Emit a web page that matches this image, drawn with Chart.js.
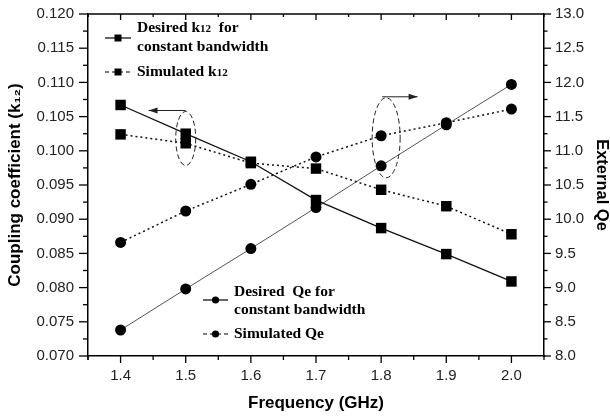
<!DOCTYPE html>
<html><head><meta charset="utf-8">
<script src="https://cdn.jsdelivr.net/npm/chart.js@4/dist/chart.umd.min.js"></script>
<style>html,body{margin:0;padding:0;background:#fff}#wrap{width:610px;height:418px;position:relative}</style>
</head><body><div id="wrap"><canvas id="c" width="610" height="418"></canvas></div>
<script>
const frequencies = [1.4, 1.5, 1.6, 1.7, 1.8, 1.9, 2.0];
const desiredK = [0.1067, 0.1025, 0.0984, 0.0928, 0.0887, 0.0849, 0.0809];
const simulatedK = [0.1024, 0.1011, 0.0982, 0.0974, 0.0943, 0.0919, 0.0878];
const desiredQe = [8.38, 8.98, 9.57, 10.17, 10.78, 11.38, 11.97];
const simulatedQe = [9.66, 10.12, 10.51, 10.91, 11.22, 11.41, 11.61];
const xTicks = [1.4, 1.5, 1.6, 1.7, 1.8, 1.9, 2.0];
const kTicks = [0.070, 0.075, 0.080, 0.085, 0.090, 0.095, 0.100, 0.105, 0.110, 0.115, 0.120];
const qeTicks = [8.0, 8.5, 9.0, 9.5, 10.0, 10.5, 11.0, 11.5, 12.0, 12.5, 13.0];

const SANS = "'Liberation Sans', Arial, sans-serif";
const SERIF = "'Liberation Serif', 'Times New Roman', serif";

const pts = (ys) => frequencies.map((f, i) => ({x: f, y: ys[i]}));

function drawRich(ctx, x, y, parts) {
  let cx = x;
  for (const [t, size, dy] of parts) {
    ctx.font = 'bold ' + size + 'px ' + SERIF;
    ctx.fillText(t, cx, y + (dy || 0));
    cx += ctx.measureText(t).width;
  }
}
function sample(ctx, x0, x1, y, dashed, marker) {
  ctx.save();
  ctx.strokeStyle = '#000'; ctx.fillStyle = '#000'; ctx.lineWidth = 1.2;
  if (dashed) ctx.setLineDash([4, 3]);
  ctx.beginPath(); ctx.moveTo(x0, y); ctx.lineTo(x1, y); ctx.stroke();
  ctx.setLineDash([]);
  const m = (x0 + x1) / 2;
  if (marker === 'rect') ctx.fillRect(m - 3.5, y - 3.5, 7, 7);
  else { ctx.beginPath(); ctx.arc(m, y, 3.6, 0, Math.PI * 2); ctx.fill(); }
  ctx.restore();
}
function arrow(ctx, xs, ys, xe, ye) {
  ctx.beginPath(); ctx.moveTo(xs, ys); ctx.lineTo(xe, ye); ctx.stroke();
  const dir = Math.sign(xe - xs);
  ctx.beginPath(); ctx.moveTo(xe, ye); ctx.lineTo(xe - dir * 9, ye - 3); ctx.lineTo(xe - dir * 9, ye + 3); ctx.closePath(); ctx.fill();
}
function fixPad(s) { s.paddingTop = 0; s.paddingBottom = 0; s.paddingLeft = 0; s.paddingRight = 0; }

const decor = {
  id: 'decor',
  afterDraw(chart) {
    const {ctx, chartArea: a, scales} = chart;
    const sx = scales.x, sy = scales.y, sq = scales.y1;
    ctx.save();
    ctx.strokeStyle = '#000'; ctx.fillStyle = '#000'; ctx.lineWidth = 1.5;
    // top frame
    ctx.beginPath(); ctx.moveTo(a.left, a.top); ctx.lineTo(a.right, a.top); ctx.stroke();
    ctx.lineWidth = 1.3;
    // x ticks (major + minor)
    const xs = [[sx.min, 4]];
    xTicks.forEach(v => { xs.push([v - 0.05, 4]); xs.push([v, 7]); });
    xs.push([sx.max, 4]);
    xs.forEach(([v, len]) => {
      const p = sx.getPixelForValue(v);
      ctx.beginPath(); ctx.moveTo(p, a.bottom); ctx.lineTo(p, a.bottom + len); ctx.stroke();
      ctx.beginPath(); ctx.moveTo(p, a.top); ctx.lineTo(p, a.top + len - 1); ctx.stroke();
    });
    kTicks.forEach((v, i) => {
      let p = sy.getPixelForValue(v);
      ctx.beginPath(); ctx.moveTo(a.left - 9, p); ctx.lineTo(a.left, p); ctx.stroke();
      if (i < kTicks.length - 1) {
        p = sy.getPixelForValue((v + kTicks[i + 1]) / 2);
        ctx.beginPath(); ctx.moveTo(a.left - 5, p); ctx.lineTo(a.left, p); ctx.stroke();
      }
    });
    qeTicks.forEach((v, i) => {
      let p = sq.getPixelForValue(v);
      ctx.beginPath(); ctx.moveTo(a.right, p); ctx.lineTo(a.right + 7, p); ctx.stroke();
      if (i < qeTicks.length - 1) {
        p = sq.getPixelForValue((v + qeTicks[i + 1]) / 2);
        ctx.beginPath(); ctx.moveTo(a.right, p); ctx.lineTo(a.right + 3.5, p); ctx.stroke();
      }
    });
    // ellipses + arrows
    ctx.lineWidth = 1; ctx.strokeStyle = '#222'; ctx.fillStyle = '#222';
    const e1x = sx.getPixelForValue(1.5), e1y = sy.getPixelForValue(0.1018);
    ctx.setLineDash([5, 3]);
    ctx.beginPath(); ctx.ellipse(e1x, e1y, 10, 27, 0, 0, Math.PI * 2); ctx.stroke();
    const e2x = sx.getPixelForValue(1.8) + 5, e2y = sq.getPixelForValue(11.19);
    ctx.beginPath(); ctx.ellipse(e2x, e2y, 14, 40, 0, 0, Math.PI * 2); ctx.stroke();
    ctx.setLineDash([]);
    arrow(ctx, e1x, e1y - 28, sx.getPixelForValue(1.443), e1y - 28);
    arrow(ctx, e2x - 4, e2y - 41, sx.getPixelForValue(1.856), e2y - 41);
    // legends
    ctx.fillStyle = '#000';
    ctx.textBaseline = 'middle'; ctx.textAlign = 'left';
    sample(ctx, 105, 131, 38, false, 'rect');
    drawRich(ctx, 137, 28, [['Desired k', 15.5], ['12', 11, 1.5], ['  for', 15.5]]);
    drawRich(ctx, 137, 47, [['constant bandwidth', 15.5]]);
    sample(ctx, 105, 131, 72, true, 'rect');
    drawRich(ctx, 137, 72, [['Simulated k', 15.5], ['12', 11, 1.5]]);
    sample(ctx, 203, 228, 300, false, 'circle');
    drawRich(ctx, 234, 292, [['Desired  Qe for', 15.5]]);
    drawRich(ctx, 234, 310, [['constant bandwidth', 15.5]]);
    sample(ctx, 203, 228, 334, true, 'circle');
    drawRich(ctx, 234, 334, [['Simulated Qe', 15.5]]);
    ctx.restore();
  }
};

const tickFont = {family: SANS, size: 15};
const titleFont = {family: SANS, size: 17, weight: 'bold'};

new Chart(document.getElementById('c'), {
  type: 'line',
  data: {
    datasets: [
      {label: 'Desired k12 for constant bandwidth', data: pts(desiredK), yAxisID: 'y',
       borderColor: '#111', borderWidth: 1.3, pointStyle: 'rect', pointRadius: 7.4,
       pointBackgroundColor: '#000', pointBorderWidth: 0, tension: 0},
      {label: 'Simulated k12', data: pts(simulatedK), yAxisID: 'y',
       borderColor: '#111', borderWidth: 1.5, borderDash: [2, 3], pointStyle: 'rect', pointRadius: 7.4,
       pointBackgroundColor: '#000', pointBorderWidth: 0, tension: 0},
      {label: 'Desired Qe for constant bandwidth', data: pts(desiredQe), yAxisID: 'y1',
       borderColor: '#555', borderWidth: 1, pointStyle: 'circle', pointRadius: 5.5,
       pointBackgroundColor: '#000', pointBorderWidth: 0, tension: 0},
      {label: 'Simulated Qe', data: pts(simulatedQe), yAxisID: 'y1',
       borderColor: '#111', borderWidth: 1.5, borderDash: [2, 3], pointStyle: 'circle', pointRadius: 5.5,
       pointBackgroundColor: '#000', pointBorderWidth: 0, tension: 0}
    ]
  },
  options: {
    responsive: false, animation: false, devicePixelRatio: 1,
    layout: {padding: {top: 14, left: 0, right: 0, bottom: 0}},
    plugins: {legend: {display: false}, tooltip: {enabled: false}},
    scales: {
      x: {
        type: 'linear', position: 'bottom', min: 1.35, max: 2.05,
        afterBuildTicks: s => { s.ticks = xTicks.map(v => ({value: v})); },
        afterFit: s => { s.height = 62; fixPad(s); },
        grid: {display: false, drawTicks: false},
        border: {display: true, color: '#000', width: 1.5},
        ticks: {font: tickFont, color: '#222', padding: 11, maxRotation: 0, autoSkip: false,
                callback: v => Number(v).toFixed(1)},
        title: {display: true, text: 'Frequency (GHz)', font: titleFont, color: '#000', padding: {bottom: 4}}
      },
      y: {
        type: 'linear', position: 'left', min: 0.07, max: 0.12,
        afterBuildTicks: s => { s.ticks = kTicks.map(v => ({value: v})); },
        afterFit: s => { s.width = 88; fixPad(s); },
        grid: {display: false, drawTicks: false},
        border: {display: true, color: '#000', width: 1.5},
        ticks: {font: tickFont, color: '#222', padding: 14, autoSkip: false,
                callback: v => Number(v).toFixed(3)},
        title: {display: true, text: 'Coupling coefficient (k₁₂)', font: titleFont, color: '#000', padding: {top: 5}}
      },
      y1: {
        type: 'linear', position: 'right', min: 8, max: 13,
        afterBuildTicks: s => { s.ticks = qeTicks.map(v => ({value: v})); },
        afterFit: s => { s.width = 66; fixPad(s); },
        grid: {display: false, drawTicks: false},
        border: {display: true, color: '#000', width: 1.5},
        ticks: {font: tickFont, color: '#222', padding: 11, autoSkip: false,
                callback: v => Number(v).toFixed(1)},
        title: {display: true, text: 'External Qe', font: {family: SANS, size: 16.5, weight: 'bold', lineHeight: 1}, color: '#000', padding: {top: 0}}
      }
    }
  },
  plugins: [decor]
});
</script></body></html>
